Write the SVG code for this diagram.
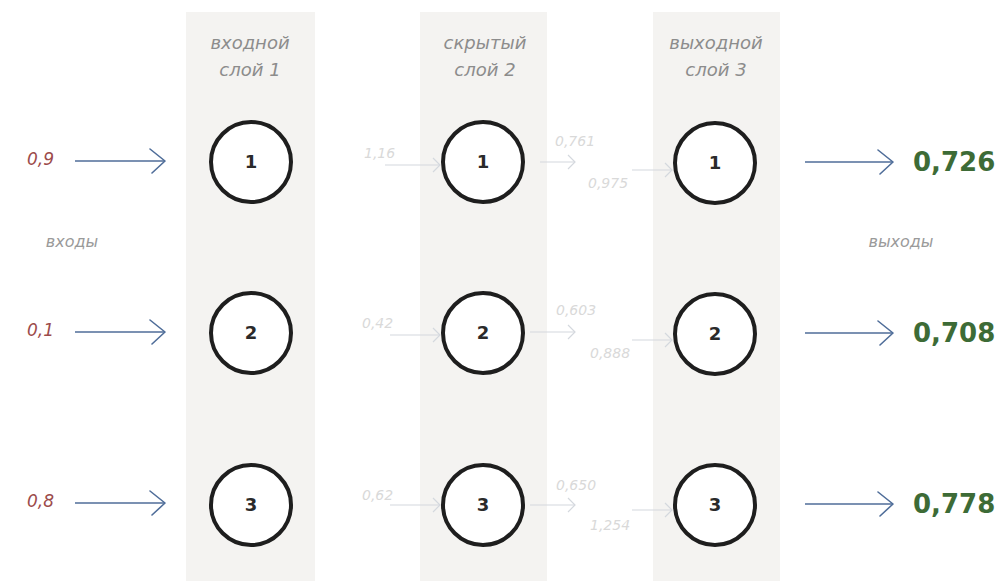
<svg xmlns="http://www.w3.org/2000/svg" width="1005" height="581" viewBox="0 0 1005 581">
<defs>
<marker id="ah" markerWidth="20" markerHeight="26" refX="18" refY="13" orient="auto" markerUnits="userSpaceOnUse">
<path d="M3,1 L18,13 L5,25" fill="none" stroke="#4f6d99" stroke-width="1.6" stroke-linecap="round" stroke-linejoin="round"/>
</marker>
<marker id="ahf" markerWidth="10" markerHeight="16" refX="9" refY="8" orient="auto" markerUnits="userSpaceOnUse">
<path d="M2,1 L9,8 L2,15" fill="none" stroke="#d4d8de" stroke-width="1.2"/>
</marker>
<style>
.col{fill:#f4f3f1}
.node circle{fill:#fff;stroke:#1e1e1e;stroke-width:4}
.node text{font-family:"DejaVu Sans",sans-serif;font-size:18px;font-weight:bold;fill:#2a2a2a;text-anchor:middle}
.hdr{font-family:"DejaVu Sans",sans-serif;font-style:italic;font-size:18px;fill:#8c8c8c;text-anchor:middle}
.side{font-family:"DejaVu Sans",sans-serif;font-style:italic;font-size:16px;fill:#9a9a9a;text-anchor:middle}
.in{font-family:"DejaVu Sans",sans-serif;font-style:italic;font-size:17px;fill:#9c4b4b}
.out{font-family:"DejaVu Sans",sans-serif;font-weight:bold;font-size:26px;fill:#3d6b36}
.faint{font-family:"DejaVu Sans",sans-serif;font-style:italic;font-size:14px;fill:#d9d9d9}
.arr{stroke:#4f6d99;stroke-width:1.6;fill:none;marker-end:url(#ah)}
.farr{stroke:#d4d8de;stroke-width:1.2;fill:none;marker-end:url(#ahf)}
</style>
</defs>
<rect width="1005" height="581" fill="#fff"/>
<rect class="col" x="186" y="12" width="129" height="569"/>
<rect class="col" x="420" y="12" width="127" height="569"/>
<rect class="col" x="653" y="12" width="127" height="569"/>

<g id="headers">
<text class="hdr" x="250" y="49">входной</text>
<text class="hdr" x="250" y="76">слой 1</text>
<text class="hdr" x="485" y="49">скрытый</text>
<text class="hdr" x="485" y="76">слой 2</text>
<text class="hdr" x="716" y="49">выходной</text>
<text class="hdr" x="716" y="76">слой 3</text>
<text class="side" x="72" y="247">входы</text>
<text class="side" x="901" y="247">выходы</text>
</g>

<g id="connectors">
<line class="arr" x1="75" y1="161" x2="165" y2="161"/>
<line class="arr" x1="75" y1="332" x2="165" y2="332"/>
<line class="arr" x1="75" y1="503" x2="165" y2="503"/>
<line class="arr" x1="805" y1="162" x2="893" y2="162"/>
<line class="arr" x1="805" y1="333" x2="893" y2="333"/>
<line class="arr" x1="805" y1="504" x2="893" y2="504"/>
<line class="farr" x1="385" y1="165" x2="440" y2="165"/>
<line class="farr" x1="540" y1="162" x2="575" y2="162"/>
<line class="farr" x1="632" y1="170" x2="672" y2="170"/>
<line class="farr" x1="390" y1="335" x2="440" y2="335"/>
<line class="farr" x1="530" y1="332" x2="575" y2="332"/>
<line class="farr" x1="632" y1="340" x2="672" y2="340"/>
<line class="farr" x1="390" y1="505" x2="440" y2="505"/>
<line class="farr" x1="530" y1="505" x2="575" y2="505"/>
<line class="farr" x1="632" y1="510" x2="672" y2="510"/>
</g>

<g id="labels">
<text class="in" x="27" y="165">0,9</text>
<text class="in" x="27" y="336">0,1</text>
<text class="in" x="27" y="507">0,8</text>
<text class="out" x="913" y="171">0,726</text>
<text class="out" x="913" y="342">0,708</text>
<text class="out" x="913" y="513">0,778</text>
<text class="faint" x="364" y="158">1,16</text>
<text class="faint" x="555" y="146">0,761</text>
<text class="faint" x="588" y="188">0,975</text>
<text class="faint" x="362" y="328">0,42</text>
<text class="faint" x="556" y="315">0,603</text>
<text class="faint" x="590" y="358">0,888</text>
<text class="faint" x="362" y="500">0,62</text>
<text class="faint" x="556" y="490">0,650</text>
<text class="faint" x="590" y="530">1,254</text>
</g>

<g id="n1_1" class="node"><circle cx="251" cy="162" r="40"/><text x="251" y="168">1</text></g>
<g id="n1_2" class="node"><circle cx="251" cy="333" r="40"/><text x="251" y="339">2</text></g>
<g id="n1_3" class="node"><circle cx="251" cy="505" r="40"/><text x="251" y="511">3</text></g>
<g id="n2_1" class="node"><circle cx="483" cy="162" r="40"/><text x="483" y="168">1</text></g>
<g id="n2_2" class="node"><circle cx="483" cy="333" r="40"/><text x="483" y="339">2</text></g>
<g id="n2_3" class="node"><circle cx="483" cy="505" r="40"/><text x="483" y="511">3</text></g>
<g id="n3_1" class="node"><circle cx="715" cy="163" r="40"/><text x="715" y="169">1</text></g>
<g id="n3_2" class="node"><circle cx="715" cy="334" r="40"/><text x="715" y="340">2</text></g>
<g id="n3_3" class="node"><circle cx="715" cy="505" r="40"/><text x="715" y="511">3</text></g>
</svg>
